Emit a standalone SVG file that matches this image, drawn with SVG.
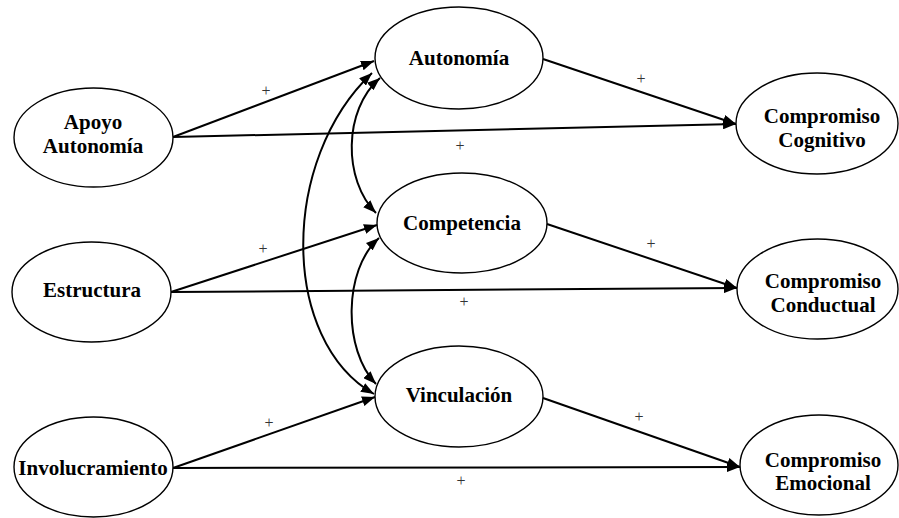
<svg xmlns="http://www.w3.org/2000/svg" width="899" height="518" viewBox="0 0 899 518">
<style>
.node ellipse{fill:#fff;stroke:#000;stroke-width:1.4}
.lbl{font-family:"Liberation Serif","Times New Roman",serif;font-weight:bold;font-size:21px;text-anchor:middle;fill:#000}
.sign{font-family:"Liberation Serif","Times New Roman",serif;font-size:16px;text-anchor:middle;fill:#333}
.edge{fill:none;stroke:#000;stroke-width:2;marker-end:url(#ah)}
.dbl{marker-start:url(#ah)}
</style>
<defs>
<marker id="ah" markerUnits="userSpaceOnUse" markerWidth="13" markerHeight="10" refX="13" refY="5" orient="auto-start-reverse" viewBox="0 0 13 10">
<path d="M0,0 L13,5 L0,10 z" fill="#000"/>
</marker>
</defs>
<rect width="899" height="518" fill="#fff"/>
<g id="connectors">
<path class="edge" d="M173,137 L374,61"/>
<path class="edge" d="M173,137 L736,124"/>
<path class="edge" d="M543,59 L736,124"/>
<path class="edge" d="M171,292 L377,225"/>
<path class="edge" d="M171,292 L737,288"/>
<path class="edge" d="M547,224 L737,288"/>
<path class="edge" d="M173,468 L375,397"/>
<path class="edge" d="M173,468 L740,467"/>
<path class="edge" d="M543,398 L740,467"/>
<path class="edge dbl" d="M372,73 C280,160 280,340 374,394"/>
<path class="edge dbl" d="M380,78 C343,110 343,180 376,213"/>
<path class="edge dbl" d="M379,238 C343,270 343,350 376,384"/>
</g>
<g id="signs">
<text class="sign" x="266" y="96">+</text>
<text class="sign" x="460" y="151">+</text>
<text class="sign" x="641" y="84">+</text>
<text class="sign" x="263" y="254">+</text>
<text class="sign" x="651" y="249">+</text>
<text class="sign" x="464" y="307">+</text>
<text class="sign" x="269" y="428">+</text>
<text class="sign" x="639" y="422">+</text>
<text class="sign" x="461" y="486">+</text>
</g>
<g id="apoyo" class="node"><ellipse cx="93.5" cy="137.5" rx="79.5" ry="49.5"/><text class="lbl" x="93" y="129">Apoyo</text><text class="lbl" x="93" y="153">Autonomía</text></g>
<g id="estructura" class="node"><ellipse cx="91.5" cy="292" rx="79.5" ry="50"/><text class="lbl" x="92" y="297">Estructura</text></g>
<g id="involucramiento" class="node"><ellipse cx="93.5" cy="467" rx="79.5" ry="50"/><text class="lbl" x="93" y="475">Involucramiento</text></g>
<g id="autonomia" class="node"><ellipse cx="459" cy="58" rx="84" ry="51"/><text class="lbl" x="459" y="65">Autonomía</text></g>
<g id="competencia" class="node"><ellipse cx="462" cy="223" rx="85" ry="50"/><text class="lbl" x="462" y="230">Competencia</text></g>
<g id="vinculacion" class="node"><ellipse cx="459" cy="396.5" rx="84" ry="50.5"/><text class="lbl" x="459" y="402">Vinculación</text></g>
<g id="cognitivo" class="node"><ellipse cx="817" cy="123.5" rx="81" ry="50.5"/><text class="lbl" x="822" y="123">Compromiso</text><text class="lbl" x="822" y="147">Cognitivo</text></g>
<g id="conductual" class="node"><ellipse cx="817.5" cy="289" rx="80.5" ry="50"/><text class="lbl" x="823" y="288">Compromiso</text><text class="lbl" x="823" y="312">Conductual</text></g>
<g id="emocional" class="node"><ellipse cx="819" cy="465" rx="79" ry="50"/><text class="lbl" x="823" y="467">Compromiso</text><text class="lbl" x="823" y="490">Emocional</text></g>
</svg>
